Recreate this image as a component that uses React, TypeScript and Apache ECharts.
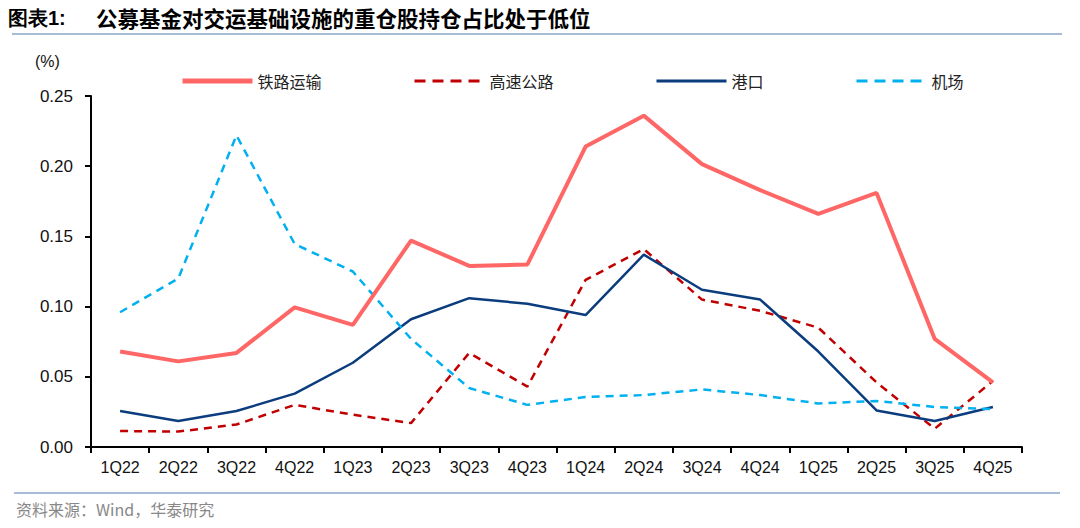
import React, { useEffect, useRef } from "react";
import * as echarts from "echarts";

const categories = ["1Q22","2Q22","3Q22","4Q22","1Q23","2Q23","3Q23","4Q23","1Q24","2Q24","3Q24","4Q24","1Q25","2Q25","3Q25","4Q25"];
const railway = [0.068,0.061,0.067,0.0995,0.087,0.147,0.129,0.130,0.214,0.236,0.2015,0.183,0.166,0.181,0.077,0.046];
const highway = [0.0114,0.011,0.016,0.030,0.023,0.017,0.067,0.043,0.119,0.141,0.105,0.097,0.085,0.046,0.013,0.047];
const port = [0.0256,0.0185,0.0256,0.038,0.060,0.091,0.106,0.102,0.094,0.137,0.112,0.105,0.068,0.026,0.0185,0.0285];
const airport = [0.096,0.120,0.222,0.1446,0.125,0.077,0.042,0.030,0.0356,0.037,0.041,0.037,0.031,0.0328,0.0285,0.027];
const seriesNames = ["铁路运输","高速公路","港口","机场"];
const yTicks = { min: 0, max: 0.25, interval: 0.05 };

export default function App() {
  const ref = useRef<HTMLDivElement>(null);
  useEffect(() => {
    document.body.style.margin = "0";
    const chart = echarts.init(ref.current!, null, { renderer: "svg" });
    const cjk = "'Noto Sans CJK SC', sans-serif";
    const latin = "'Liberation Sans', Arial, sans-serif";
    const legendLefts = [180, 413, 655, 855];
    const dataSets = [railway, highway, port, airport];
    const styles = [
      { color: "#FF6666", width: 4, type: "solid" },
      { color: "#C00000", width: 2.5, type: [8, 6] },
      { color: "#0B3D7E", width: 2.5, type: "solid" },
      { color: "#00B0F0", width: 2.5, type: [8, 6] },
    ];
    const legendLine = [
      { color: "#FF6666", width: 5, type: "solid" },
      { color: "#C00000", width: 3, type: [11, 7] },
      { color: "#0B3D7E", width: 3, type: "solid" },
      { color: "#00B0F0", width: 3, type: [11, 7] },
    ];
    chart.setOption({
      animation: false,
      backgroundColor: "#ffffff",
      grid: { left: 91, right: 58, top: 96, bottom: 81, containLabel: false },
      legend: seriesNames.map((n, i) => ({
        data: [n],
        left: legendLefts[i],
        top: 73,
        padding: 0,
        itemWidth: 70,
        itemHeight: 18,
        itemGap: 8,
        itemStyle: { opacity: 0 },
        lineStyle: legendLine[i],
        textStyle: { fontFamily: cjk, fontSize: 16, color: "#222" },
      })),
      graphic: [
        { type: "text", left: 8, top: 8, style: { text: "图表1:", font: `bold 20px ${latin}`, fill: "#000" } },
        { type: "text", left: 96, top: 7, style: { text: "公募基金对交运基础设施的重仓股持仓占比处于低位", font: `bold 21.5px ${cjk}`, fill: "#000" } },
        { type: "line", shape: { x1: 12, y1: 34, x2: 1062, y2: 34 }, style: { stroke: "#A7BCD6", lineWidth: 2 } },
        { type: "text", left: 35, top: 53, style: { text: "(%)", font: `16px ${latin}`, fill: "#111" } },
        { type: "line", shape: { x1: 14, y1: 493, x2: 1060, y2: 493 }, style: { stroke: "#A7BCD6", lineWidth: 2 } },
        { type: "text", left: 16, top: 501, style: { text: "资料来源：Wind，华泰研究", font: `16px ${cjk}`, fill: "#888" } },
      ],
      xAxis: {
        type: "category",
        data: categories,
        boundaryGap: true,
        axisLine: { lineStyle: { color: "#000", width: 2 } },
        axisTick: { show: true, length: 6, alignWithLabel: false, lineStyle: { color: "#000", width: 2 } },
        axisLabel: { fontFamily: latin, fontSize: 16, color: "#111", margin: 12, interval: 0 },
      },
      yAxis: {
        type: "value",
        min: yTicks.min,
        max: yTicks.max,
        interval: yTicks.interval,
        splitLine: { show: false },
        axisLine: { show: true, lineStyle: { color: "#000", width: 2 } },
        axisTick: { show: true, length: 6, lineStyle: { color: "#000", width: 2 } },
        axisLabel: { fontFamily: latin, fontSize: 17, color: "#111", margin: 18, formatter: (v: number) => v.toFixed(2) },
      },
      series: seriesNames.map((n, i) => ({
        name: n,
        type: "line",
        data: dataSets[i],
        symbol: "none",
        lineStyle: styles[i],
        itemStyle: { color: styles[i].color },
        z: i === 0 ? 3 : 2,
      })),
    });
    return () => chart.dispose();
  }, []);
  return <div ref={ref} style={{ width: 1080, height: 528 }} />;
}
